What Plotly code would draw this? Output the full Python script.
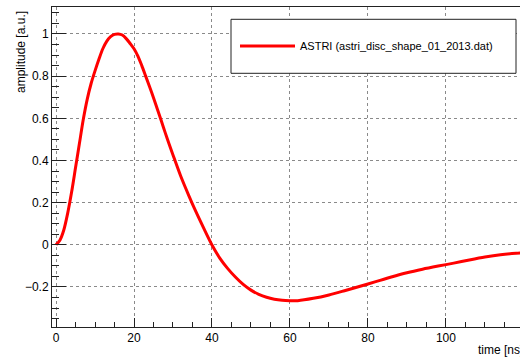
import plotly.graph_objects as go

# Discriminator pulse shape (time in ns, normalised amplitude)
time_ns = [0, 1, 2, 3, 4, 5, 6, 7, 8, 9, 10, 11, 12, 13, 14, 15, 16,
           17, 18, 19, 20, 21, 22, 23, 24, 25, 26, 27, 28, 29, 30, 32, 34, 36,
           38, 40, 42, 44, 46, 48, 50, 52, 54, 56, 58, 60, 62, 66, 70, 74, 78,
           82, 86, 90, 94, 98, 102, 106, 110, 114, 118, 121]
amplitude = [0.0, 0.022, 0.07, 0.15, 0.25, 0.365, 0.48, 0.595, 0.69, 0.765, 0.825,
             0.88, 0.93, 0.965, 0.987, 0.998, 1.0,
             0.995, 0.978, 0.955, 0.93, 0.895, 0.85, 0.80, 0.75, 0.698, 0.643,
             0.588, 0.532, 0.478, 0.426, 0.325, 0.236, 0.152, 0.074, -0.001,
             -0.063, -0.112, -0.153, -0.188, -0.215, -0.235, -0.249, -0.258,
             -0.263, -0.265, -0.265, -0.254, -0.238, -0.218, -0.197, -0.175,
             -0.153, -0.133, -0.116, -0.101, -0.087, -0.072, -0.058, -0.047,
             -0.040, -0.037]
series_name = "ASTRI (astri_disc_shape_01_2013.dat)"

FONT = "Liberation Sans, Arial, Helvetica, sans-serif"
W, H = 520, 358
ML, MR, MT, MB = 52, 0, 7, 31
PW, PH = W - ML - MR, H - MT - MB


def px_x(p):
    return (p - ML) / PW


def px_y(p):
    return 1 - (p - MT) / PH


fig = go.Figure()
fig.add_trace(go.Scatter(
    x=time_ns, y=amplitude, mode="lines", name=series_name,
    line=dict(color="#ff0000", width=3, shape="spline", smoothing=0.8),
    showlegend=True,
))

axis_common = dict(
    showline=True, linecolor="#222222", linewidth=1,
    ticks="inside", tickcolor="#222222", tickwidth=1,
    showgrid=True, gridcolor="#8a8a8a", griddash="dot", gridwidth=1,
    zeroline=False,
    tickfont=dict(family=FONT, size=12, color="#000000"),
)

fig.update_xaxes(
    **axis_common,
    range=[-1.03, 119.0], tick0=0, dtick=20, ticklen=9, mirror=True,
    minor=dict(ticks="inside", dtick=5, ticklen=5, tickcolor="#222222", showgrid=False),
)
fig.update_yaxes(
    **axis_common,
    range=[-0.39, 1.128], tick0=0, dtick=0.2, ticklen=14,
    minor=dict(ticks="inside", dtick=0.05, ticklen=7, tickcolor="#222222", showgrid=False),
)

# Legend frame
fig.add_shape(type="rect", xref="paper", yref="paper",
              x0=px_x(231), x1=px_x(516), y0=px_y(73.3), y1=px_y(19.3),
              line=dict(color="#222222", width=1), fillcolor="white", layer="above")

fig.update_layout(
    width=W, height=H,
    margin=dict(l=ML, r=MR, t=MT, b=MB, pad=0),
    paper_bgcolor="white", plot_bgcolor="white",
    font=dict(family=FONT, size=12, color="#000000"),
    legend=dict(x=px_x(235), y=px_y(46), xanchor="left", yanchor="middle",
                bgcolor="rgba(0,0,0,0)", borderwidth=0, itemwidth=55,
                font=dict(family=FONT, size=11, color="#000000")),
    annotations=[
        dict(text="amplitude [a.u.]", textangle=-90, xref="paper", yref="paper",
             x=px_x(21), y=px_y(9), xanchor="center", yanchor="top",
             showarrow=False, font=dict(family=FONT, size=12)),
        dict(text="time [ns]", xref="paper", yref="paper",
             x=px_x(476), y=px_y(350), xanchor="left", yanchor="middle",
             showarrow=False, font=dict(family=FONT, size=12)),
    ],
)

fig.write_html("out.html")
